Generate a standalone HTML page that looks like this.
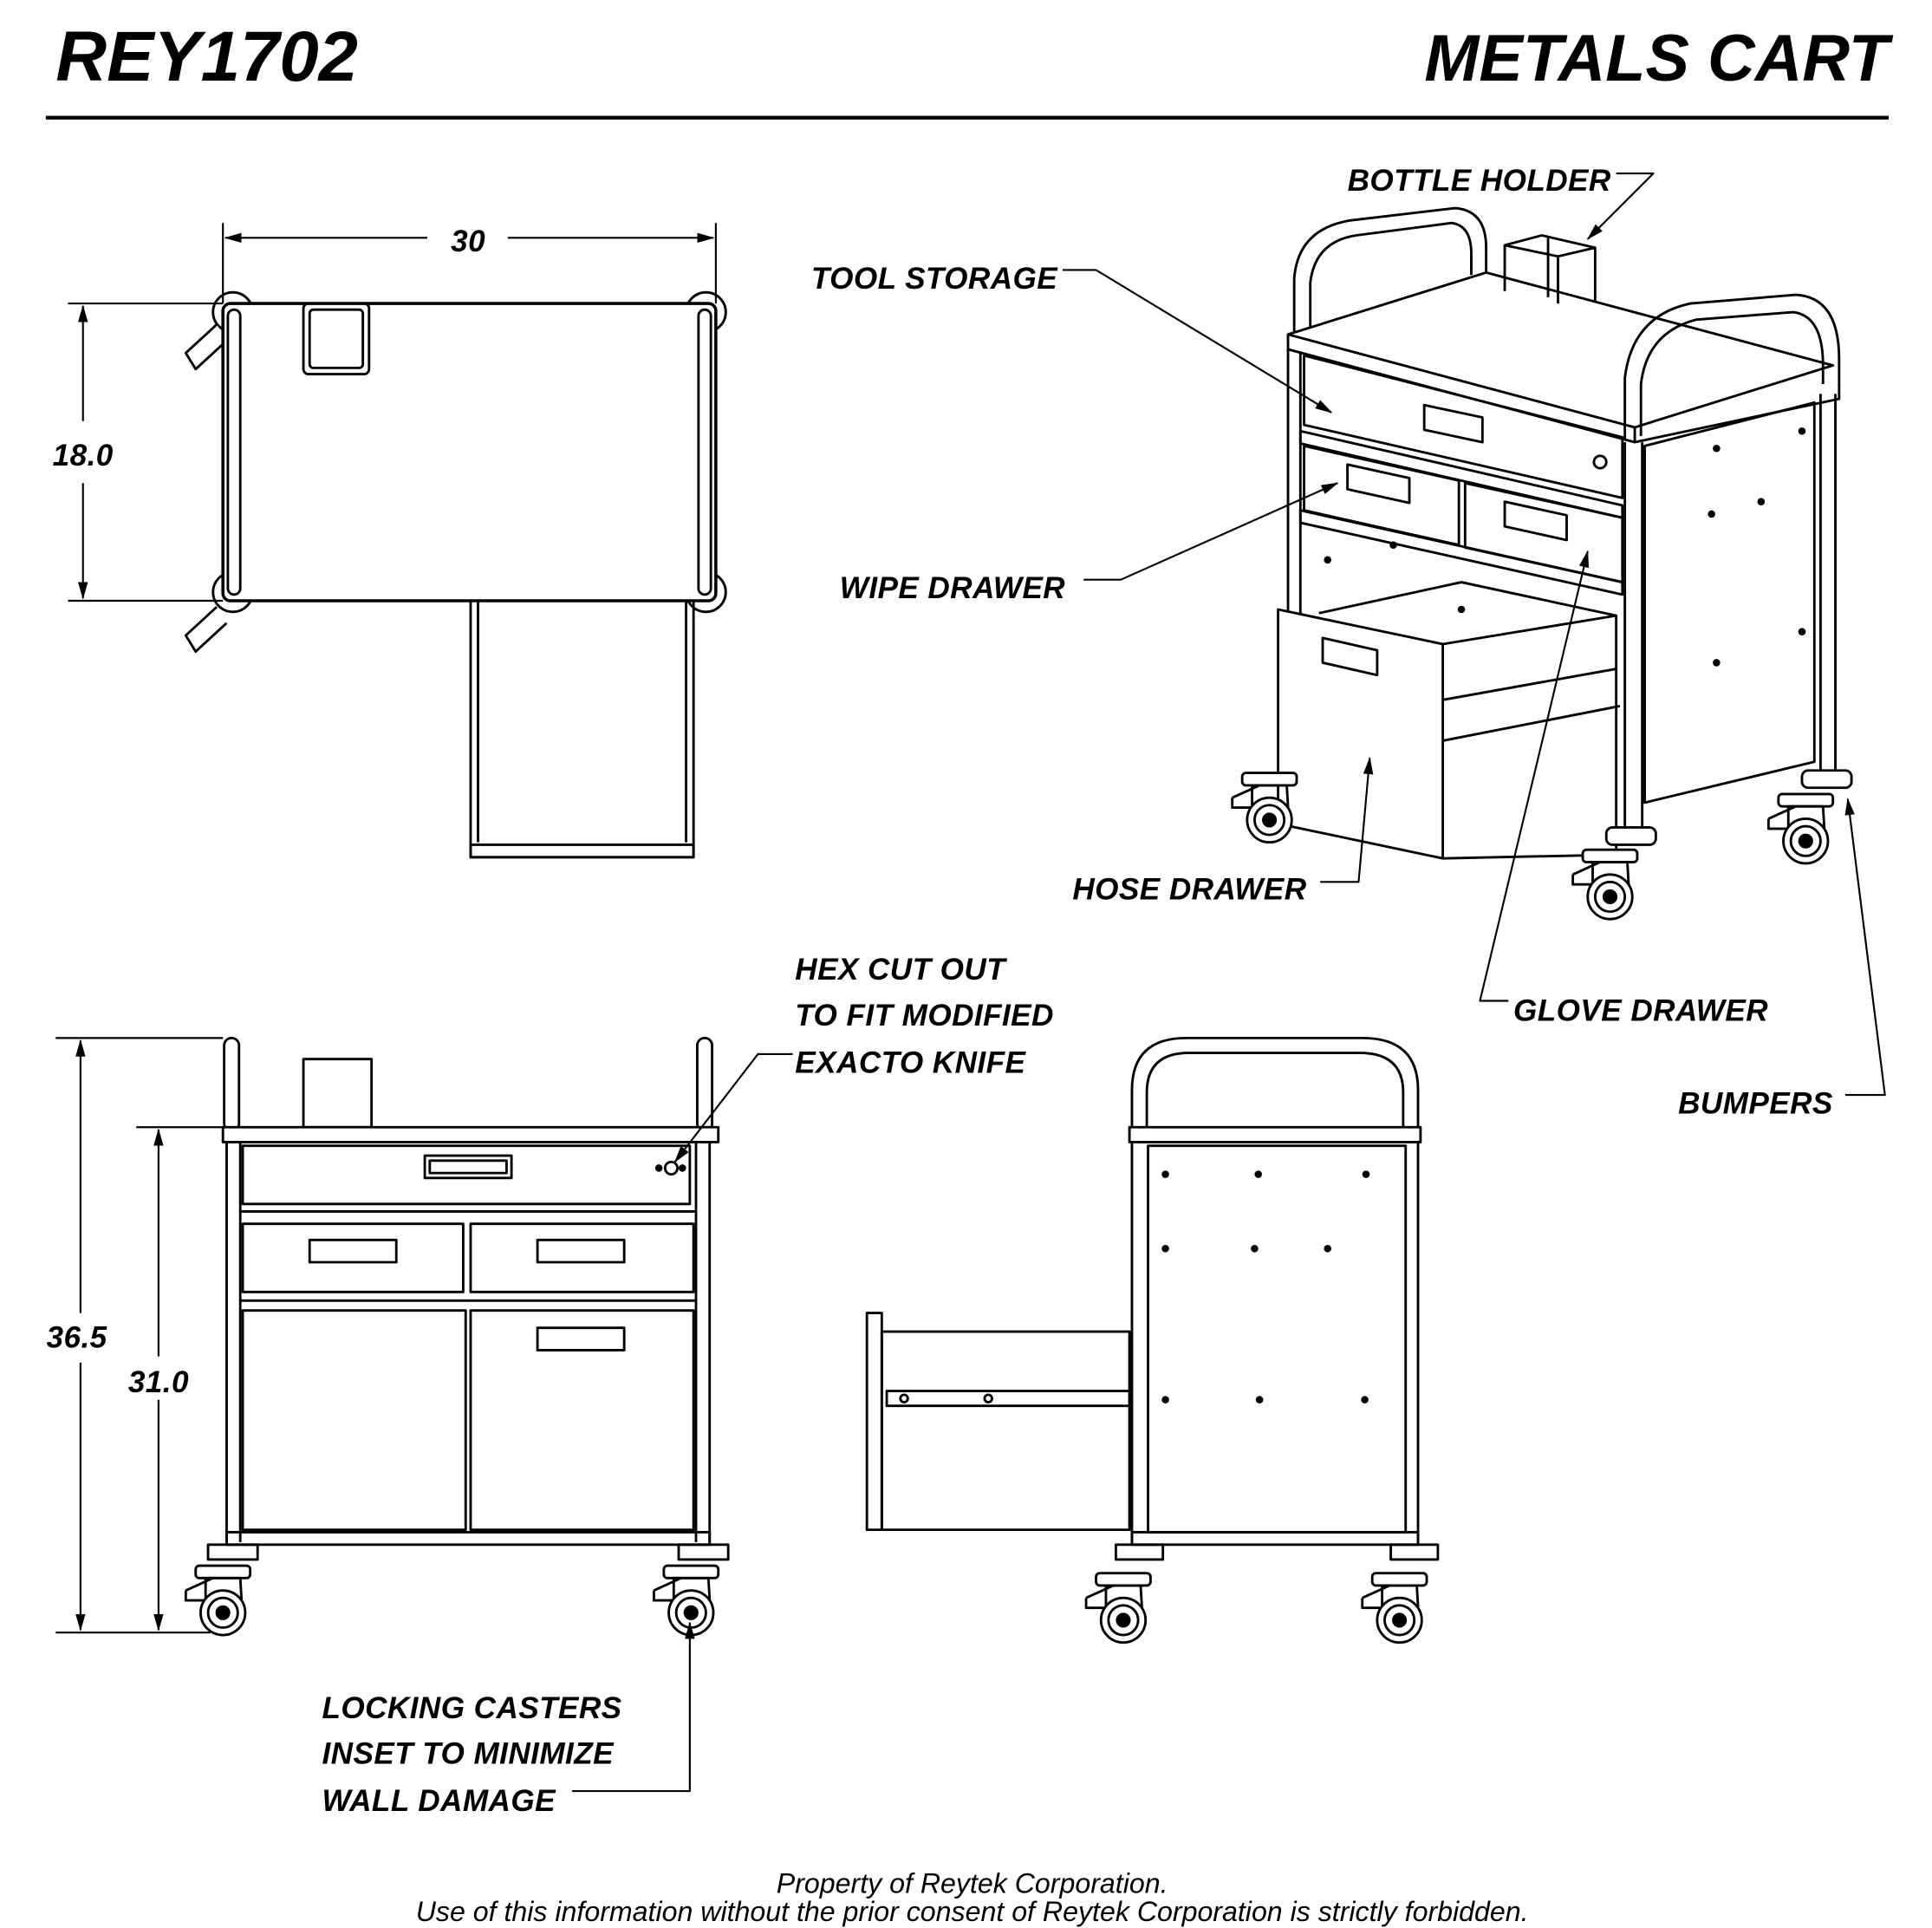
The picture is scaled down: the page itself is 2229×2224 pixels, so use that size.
<!DOCTYPE html>
<html><head><meta charset="utf-8"><style>
html,body{margin:0;padding:0;background:#fff}
svg{display:block}
text{font-family:"Liberation Sans",sans-serif;font-style:italic;fill:#000}
.l{font-size:24.6px;font-weight:bold;letter-spacing:0.3px}
</style></head><body>
<svg width="2229" height="2224" viewBox="0 0 1560 1556.5" xmlns="http://www.w3.org/2000/svg" fill="none" stroke="#000" stroke-width="2" stroke-linejoin="round">
<defs>
<marker id="a" markerWidth="14" markerHeight="8" refX="13" refY="4" orient="auto" markerUnits="userSpaceOnUse"><path d="M0,0 L14,4 L0,8 z" fill="#000" stroke="none"/></marker>
<g id="caster">
<rect x="-22" y="-14" width="44" height="10" rx="3" fill="#fff"/>
<path d="M-14,-4 L14,-4 L16,30 L-14,30 z"/>
<path d="M-30,6 L-8,-4 M-30,6 L-30,14 L-10,14"/>
<circle cx="0" cy="24" r="18" fill="#fff"/><circle cx="0" cy="24" r="12"/><circle cx="0" cy="24" r="5" fill="#000"/>
</g>
</defs>

<!-- Title -->
<text x="45" y="65" style="font-size:57px;font-weight:bold" stroke="none">REY1702</text>
<text x="1525" y="65" text-anchor="end" style="font-size:53px;font-weight:bold" stroke="none">METALS CART</text>
<line x1="37" y1="95" x2="1525" y2="95" stroke-width="3"/>

<!-- TOP VIEW -->
<line x1="180" y1="180" x2="180" y2="245" stroke-width="1.5"/>
<line x1="578" y1="180" x2="578" y2="245" stroke-width="1.5"/>
<line x1="345" y1="192" x2="182" y2="192" stroke-width="1.5" marker-end="url(#a)"/>
<line x1="410" y1="192" x2="576" y2="192" stroke-width="1.5" marker-end="url(#a)"/>
<text x="378" y="203" text-anchor="middle" class="l" stroke="none">30</text>
<line x1="55" y1="245" x2="180" y2="245" stroke-width="1.5"/>
<line x1="55" y1="485" x2="180" y2="485" stroke-width="1.5"/>
<line x1="67" y1="340" x2="67" y2="247" stroke-width="1.5" marker-end="url(#a)"/>
<line x1="67" y1="390" x2="67" y2="483" stroke-width="1.5" marker-end="url(#a)"/>
<text x="67" y="376" text-anchor="middle" class="l" stroke="none">18.0</text>
<circle cx="188" cy="252" r="16"/><circle cx="570" cy="252" r="16"/>
<circle cx="188" cy="478" r="16"/><circle cx="570" cy="478" r="16"/>
<path d="M175,262 L150,285 L158,298 L183,275" fill="#fff"/>
<path d="M175,490 L150,513 L158,526 L183,503" fill="#fff"/>
<rect x="180" y="245" width="398" height="240" rx="6" fill="#fff" stroke-width="2.5"/>
<rect x="184" y="250" width="10" height="230" rx="5"/>
<rect x="564" y="250" width="10" height="230" rx="5"/>
<rect x="245" y="245" width="53" height="57" rx="4"/><rect x="250" y="250" width="43" height="47" rx="3"/>
<rect x="380" y="485" width="180" height="207"/>
<line x1="386" y1="485" x2="386" y2="680"/><line x1="554" y1="485" x2="554" y2="680"/>
<rect x="380" y="682" width="180" height="10"/>

<!-- FRONT VIEW -->
<line x1="45" y1="838" x2="180" y2="838" stroke-width="1.5"/>
<line x1="110" y1="910" x2="180" y2="910" stroke-width="1.5"/>
<line x1="45" y1="1318" x2="170" y2="1318" stroke-width="1.5"/>
<line x1="65" y1="1060" x2="65" y2="840" stroke-width="1.5" marker-end="url(#a)"/>
<line x1="65" y1="1100" x2="65" y2="1316" stroke-width="1.5" marker-end="url(#a)"/>
<text x="62" y="1088" text-anchor="middle" class="l" stroke="none">36.5</text>
<line x1="128" y1="1095" x2="128" y2="912" stroke-width="1.5" marker-end="url(#a)"/>
<line x1="128" y1="1130" x2="128" y2="1316" stroke-width="1.5" marker-end="url(#a)"/>
<text x="128" y="1124" text-anchor="middle" class="l" stroke="none">31.0</text>
<rect x="181" y="838" width="12" height="75" rx="6"/><rect x="563" y="838" width="12" height="75" rx="6"/>
<rect x="245" y="855" width="55" height="55"/>
<rect x="180" y="910" width="400" height="12" fill="#fff"/>
<line x1="183" y1="922" x2="183" y2="1245"/><line x1="194" y1="922" x2="194" y2="1245"/>
<line x1="562" y1="922" x2="562" y2="1245"/><line x1="573" y1="922" x2="573" y2="1245"/>
<rect x="196" y="925" width="361" height="47"/>
<rect x="343" y="933" width="70" height="18"/><rect x="347" y="937" width="62" height="10"/>
<circle cx="542" cy="943" r="5"/><circle cx="532" cy="943" r="2" fill="#000"/><circle cx="551" cy="943" r="2" fill="#000"/>
<line x1="194" y1="978" x2="562" y2="978"/>
<rect x="196" y="988" width="178" height="55"/><rect x="380" y="988" width="180" height="55"/>
<rect x="250" y="1001" width="70" height="18"/><rect x="434" y="1001" width="70" height="18"/>
<line x1="194" y1="1050" x2="562" y2="1050"/>
<rect x="196" y="1058" width="180" height="177"/><rect x="380" y="1058" width="180" height="177"/>
<rect x="434" y="1072" width="70" height="18"/>
<rect x="183" y="1237" width="390" height="10"/>
<rect x="168" y="1247" width="40" height="12"/><rect x="548" y="1247" width="40" height="12"/>
<use href="#caster" transform="translate(180,1278)"/>
<use href="#caster" transform="translate(558,1278)"/>

<!-- SIDE VIEW -->
<path d="M914,910 L914,880 Q914,838 958,838 L1100,838 Q1145,838 1145,880 L1145,910"/>
<path d="M926,910 L926,882 Q926,850 960,850 L1098,850 Q1133,850 1133,882 L1133,910"/>
<rect x="912" y="910" width="235" height="12" fill="#fff"/>
<line x1="914" y1="922" x2="914" y2="1245"/><line x1="1145" y1="922" x2="1145" y2="1245"/>
<rect x="927" y="925" width="208" height="312"/>
<g fill="#000" stroke="none">
<circle cx="941" cy="948" r="3"/><circle cx="1016" cy="948" r="3"/><circle cx="1103" cy="948" r="3"/>
<circle cx="941" cy="1008" r="3"/><circle cx="1013" cy="1008" r="3"/><circle cx="1072" cy="1008" r="3"/>
<circle cx="941" cy="1130" r="3"/><circle cx="1017" cy="1130" r="3"/><circle cx="1102" cy="1130" r="3"/>
</g>
<rect x="700" y="1060" width="12" height="175"/>
<rect x="712" y="1075" width="200" height="160"/>
<rect x="716" y="1123" width="196" height="12"/>
<circle cx="730" cy="1129" r="3"/><circle cx="798" cy="1129" r="3"/>
<rect x="914" y="1237" width="231" height="10"/>
<rect x="901" y="1247" width="38" height="12"/><rect x="1123" y="1247" width="38" height="12"/>
<use href="#caster" transform="translate(907,1284)"/>
<use href="#caster" transform="translate(1130,1284)"/>

<!-- ISOMETRIC -->
<path d="M1045,272 L1045,225 Q1048,185 1090,178 L1175,168 Q1200,170 1200,200 L1200,220"/>
<path d="M1058,272 L1058,228 Q1062,195 1095,190 L1172,180 Q1188,182 1188,205 L1188,222"/>
<path d="M1040,270 L1200,220 L1480,295 L1320,345 Z" fill="#fff"/>
<path d="M1040,270 L1040,282 L1320,357 L1320,345 M1320,357 L1485,322 L1485,308"/>
<path d="M1215,235 L1215,198 L1245,190 L1288,200 L1288,243 M1250,192 L1250,240 M1215,198 L1258,207 L1288,200 M1258,207 L1258,245"/>
<path d="M1312,355 L1312,305 Q1318,255 1365,245 L1450,238 Q1485,240 1485,290 L1485,308"/>
<path d="M1325,352 L1325,310 Q1330,268 1370,258 L1448,252 Q1472,255 1472,295 L1472,310"/>
<line x1="1040" y1="282" x2="1040" y2="642"/><line x1="1050" y1="285" x2="1050" y2="642"/>
<line x1="1312" y1="357" x2="1312" y2="672"/><line x1="1326" y1="357" x2="1326" y2="672"/>
<line x1="1470" y1="318" x2="1470" y2="625"/><line x1="1482" y1="318" x2="1482" y2="625"/>
<path d="M1328,360 L1465,325 L1465,615 L1328,648 Z"/>
<g fill="#000" stroke="none">
<circle cx="1386" cy="362" r="3"/><circle cx="1455" cy="348" r="3"/><circle cx="1382" cy="415" r="3"/><circle cx="1422" cy="405" r="3"/>
<circle cx="1386" cy="535" r="3"/><circle cx="1455" cy="510" r="3"/><circle cx="1125" cy="440" r="3"/><circle cx="1072" cy="452" r="3"/><circle cx="1180" cy="492" r="3"/>
</g>
<path d="M1053,287 L1310,353 L1310,402 L1053,343 Z"/>
<path d="M1150,327 L1197,337 L1197,357 L1150,347 Z"/>
<circle cx="1292" cy="373" r="5"/>
<path d="M1050,348 L1310,408 L1310,418 L1050,358 Z"/>
<path d="M1053,360 L1178,388 L1178,440 L1053,412 Z"/>
<path d="M1183,390 L1310,418 L1310,470 L1183,442 Z"/>
<path d="M1088,375 L1138,386 L1138,406 L1088,395 Z"/>
<path d="M1215,405 L1265,416 L1265,436 L1215,425 Z"/>
<path d="M1050,412 L1310,470 L1310,480 L1050,422 Z"/>
<path d="M1065,495 L1180,470 L1305,497 L1305,690 L1165,693"/>
<path d="M1165,520 L1305,497 M1165,565 L1305,540 M1165,598 L1308,570"/>
<path d="M1032,492 L1165,520 L1165,693 L1032,665 Z" fill="#fff"/>
<path d="M1068,515 L1112,525 L1112,545 L1068,535 Z"/>
<use href="#caster" transform="translate(1025,638)"/>
<rect x="1297" y="668" width="40" height="14" rx="5" fill="#fff"/>
<use href="#caster" transform="translate(1300,700)"/>
<rect x="1455" y="622" width="40" height="14" rx="5" fill="#fff"/>
<use href="#caster" transform="translate(1458,655)"/>

<!-- Labels -->
<g stroke-width="1.5">
<text x="1088" y="154" class="l" stroke="none">BOTTLE HOLDER</text>
<path d="M1305,140 L1335,140 L1282,193" marker-end="url(#a)"/>
<text x="655" y="233" class="l" stroke="none">TOOL STORAGE</text>
<path d="M858,218 L885,218 L1075,333" marker-end="url(#a)"/>
<text x="678" y="483" class="l" stroke="none">WIPE DRAWER</text>
<path d="M875,468 L905,468 L1080,390" marker-end="url(#a)"/>
<text x="866" y="726" class="l" stroke="none">HOSE DRAWER</text>
<path d="M1066,712 L1097,712 L1106,612" marker-end="url(#a)"/>
<text x="1222" y="824" class="l" stroke="none">GLOVE DRAWER</text>
<path d="M1218,808 L1195,808 L1282,445" marker-end="url(#a)"/>
<text x="1355" y="899" class="l" stroke="none">BUMPERS</text>
<path d="M1490,884 L1522,884 L1492,645" marker-end="url(#a)"/>
<text x="642" y="791" class="l" stroke="none">HEX CUT OUT</text>
<text x="642" y="828" class="l" stroke="none">TO FIT MODIFIED</text>
<text x="642" y="866" class="l" stroke="none">EXACTO KNIFE</text>
<path d="M640,851 L612,851 L545,938" marker-end="url(#a)"/>
<text x="260" y="1387" class="l" stroke="none">LOCKING CASTERS</text>
<text x="260" y="1424" class="l" stroke="none">INSET TO MINIMIZE</text>
<text x="260" y="1462" class="l" stroke="none">WALL DAMAGE</text>
<path d="M462,1446 L557,1446 L557,1310" marker-end="url(#a)"/>
</g>

<text x="785" y="1528" text-anchor="middle" style="font-size:22.5px" stroke="none">Property of Reytek Corporation.</text>
<text x="785" y="1551" text-anchor="middle" style="font-size:22.5px" stroke="none">Use of this information without the prior consent of Reytek Corporation is strictly forbidden.</text>
</svg>
</body></html>
